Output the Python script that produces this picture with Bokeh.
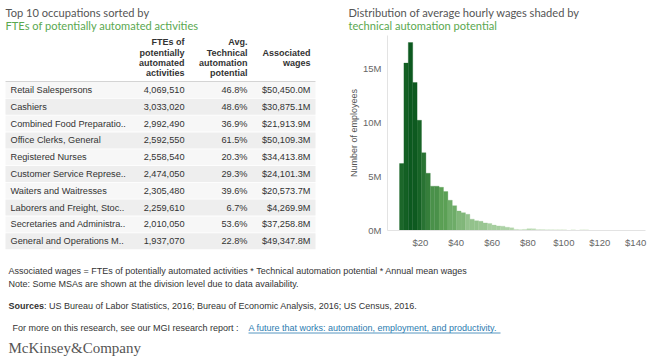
from bokeh.plotting import figure
from bokeh.layouts import column, row
from bokeh.models import (Range1d, FixedTicker, PrintfTickFormatter,
                          LinearColorMapper, ColumnDataSource)
from bokeh.transform import transform
from bokeh.core.properties import value
from bokeh.embed import file_html
from bokeh.resources import INLINE

# ---------------- data ----------------
occupations = ["Retail Salespersons", "Cashiers", "Combined Food Preparatio..",
               "Office Clerks, General", "Registered Nurses", "Customer Service Represe..",
               "Waiters and Waitresses", "Laborers and Freight, Stoc..",
               "Secretaries and Administra..", "General and Operations M.."]
fte_automated = [4069510, 3033020, 2992490, 2592550, 2558540, 2474050,
                 2305480, 2259610, 2010050, 1937070]
automation_potential_pct = [46.8, 48.6, 36.9, 61.5, 20.3, 29.3, 39.6, 6.7, 53.6, 22.8]
associated_wages_m = [50450.0, 30875.1, 21913.9, 50109.3, 34413.8, 24101.3,
                      20573.7, 4269.9, 37258.8, 49347.8]

# histogram: lower edge of each hourly-wage bin ($), employees (millions),
# average technical automation potential of the bin (%) -> shading
wage_bin_start = [8.4, 10.85, 13.3, 15.75, 18.2, 20.65, 23.1, 25.55, 28.0, 30.45,
                  32.9, 35.35, 37.8, 40.25, 42.7, 45.15, 47.6, 50.05, 52.5, 54.95,
                  57.4, 59.85, 62.3, 64.75, 67.2, 69.65, 72.1, 74.55, 77.0, 79.45,
                  81.9, 84.35, 86.8, 89.25, 91.7, 94.15, 96.6, 99.05, 101.5, 103.95,
                  106.4, 108.85, 111.3]
employees_m = [6.2, 15.5, 17.4, 13.7, 10.2, 7.2, 5.3, 4.1, 4.1, 4.0,
               3.6, 2.8, 2.3, 1.8, 1.65, 1.5, 1.05, 0.9, 0.85, 0.7,
               0.65, 0.5, 0.42, 0.4, 0.3, 0.25, 0.1, 0.08, 0.1, 0.17,
               0.16, 0.09, 0.09, 0.08, 0.08, 0.08, 0.08, 0.08, 0.0, 0.08,
               0.0, 0.08, 0.07]
bin_automation_pct = [55, 57, 59, 58.5, 56, 52, 49, 44, 44, 40,
                      40, 37, 37, 34, 34, 31, 31, 31, 30, 30,
                      28, 28, 28, 27, 27, 26, 25, 25, 25, 25,
                      24, 22, 22, 22, 22, 21, 21, 21, 21, 20,
                      20, 20, 20]
BIN_WIDTH = 2.45

y_ticks_m = [0, 5, 10, 15]
x_ticks_usd = [20, 40, 60, 80, 100, 120, 140]

# ---------------- styles ----------------
TITLE_GRAY = "#555555"
TITLE_GREEN = "#5aa84f"
TXT = "#333333"
SANS = "Liberation Sans"
TITLE_FONT = "Lato"


def blank(w, h, x0, x1, ytop, ybot):
    f = figure(width=w, height=h, x_range=Range1d(x0, x1), y_range=Range1d(ybot, ytop),
               output_backend="svg", toolbar_location=None,
               x_axis_location=None, y_axis_location=None, min_border=0)
    f.grid.visible = False
    f.outline_line_color = None
    return f


# ---------------- header ----------------
hdr = blank(650, 35, 0, 650, 0, 35)
hdr.text(x=[5, 5, 348, 348], y=[12, 25, 12, 25],
         text=["Top 10 occupations sorted by", "FTEs of potentially automated activities",
               "Distribution of average hourly wages shaded by", "technical automation potential"],
         text_color=[TITLE_GRAY, TITLE_GREEN, TITLE_GRAY, TITLE_GREEN],
         text_font=value(TITLE_FONT), text_font_size="11.1px",
         text_baseline="middle", text_align="left")

# ---------------- table ----------------
tbl = blank(340, 220, 0, 340, 35, 255)
hy = [41.7, 52.3, 62.7, 72.7]
tbl.text(x=[184] * 4, y=hy, text=["FTEs of", "potentially", "automated", "activities"],
         text_font=value(SANS), text_font_size="9px", text_font_style="bold",
         text_color=TXT, text_align="right", text_baseline="middle")
tbl.text(x=[247] * 4, y=hy, text=["Avg.", "Technical", "automation", "potential"],
         text_font=value(SANS), text_font_size="9px", text_font_style="bold",
         text_color=TXT, text_align="right", text_baseline="middle")
tbl.text(x=[310] * 2, y=hy[1:3], text=["Associated", "wages"],
         text_font=value(SANS), text_font_size="9px", text_font_style="bold",
         text_color=TXT, text_align="right", text_baseline="middle")

row_y = [89.5 + i * 16.8 for i in range(len(occupations))]
tsrc = ColumnDataSource(dict(
    y=row_y,
    top=[v - 8.0 for v in row_y],
    bot=[v + 8.0 for v in row_y],
    fill=["#f7f7f7" if i % 2 == 0 else "#eeeeee" for i in range(len(occupations))],
    name=occupations,
    fte=[f"{v:,}" for v in fte_automated],
    pct=[f"{v:.1f}%" for v in automation_potential_pct],
    wage=[f"${v:,.1f}M" for v in associated_wages_m],
))
tbl.quad(left=5, right=315, top="top", bottom="bot", fill_color="fill",
         line_color=None, source=tsrc)
tbl.segment(x0=[5], x1=[315], y0=[81], y1=[81], line_color="#d4d4d4", line_width=1)
for col, xpos, align in [("name", 10, "left"), ("fte", 184, "right"),
                         ("pct", 247, "right"), ("wage", 310, "right")]:
    tbl.text(x=xpos, y="y", text=col, source=tsrc, text_font=value(SANS),
             text_font_size="9.2px", text_color=TXT, text_align=align,
             text_baseline="middle")

# ---------------- histogram ----------------
stops = [(0.0, (0xd8, 0xec, 0xd0)), (0.5, (0x5b, 0xa0, 0x55)), (1.0, (0x08, 0x55, 0x1c))]
palette = []
for k in range(256):
    t = k / 255
    for (t0, c0), (t1, c1) in zip(stops[:-1], stops[1:]):
        if t0 <= t <= t1:
            u = (t - t0) / (t1 - t0)
            c = tuple(round(a + (b - a) * u) for a, b in zip(c0, c1))
            break
    palette.append("#%02x%02x%02x" % c)
mapper = LinearColorMapper(palette=palette, low=20, high=60)

hsrc = ColumnDataSource(dict(
    x=[s + BIN_WIDTH / 2 for s in wage_bin_start],
    top=employees_m,
    auto=bin_automation_pct,
))

hist = figure(width=310, height=220, x_range=Range1d(1.7, 145.5), y_range=Range1d(0, 18.05),
              output_backend="svg", toolbar_location=None,
              min_border_left=47, min_border_right=5, min_border_top=0, min_border_bottom=25)
hist.vbar(x="x", top="top", width=BIN_WIDTH, bottom=0, source=hsrc,
          fill_color=transform("auto", mapper), line_color=transform("auto", mapper),
          line_width=0.3)
hist.grid.visible = False
hist.outline_line_color = None
for ax in (hist.xaxis[0], hist.yaxis[0]):
    ax.axis_line_color = "#e3e3e3"
    ax.major_tick_line_color = None
    ax.minor_tick_line_color = None
    ax.major_tick_out = 0
    ax.major_tick_in = 0
    ax.major_label_text_font = SANS
    ax.major_label_text_font_size = "9.5px"
    ax.major_label_text_color = "#666666"
hist.xaxis.ticker = FixedTicker(ticks=x_ticks_usd)
hist.xaxis.formatter = PrintfTickFormatter(format="$%d")
hist.xaxis.major_label_standoff = 6
hist.yaxis.ticker = FixedTicker(ticks=y_ticks_m)
hist.yaxis.formatter = PrintfTickFormatter(format="%dM")
hist.yaxis.major_label_standoff = 6
hist.yaxis.axis_label = "Number of employees"
hist.yaxis.axis_label_text_font = SANS
hist.yaxis.axis_label_text_font_size = "9px"
hist.yaxis.axis_label_text_font_style = "normal"
hist.yaxis.axis_label_text_color = "#555555"
hist.yaxis.axis_label_standoff = 1

# ---------------- footer ----------------
ftr = blank(650, 101, 0, 650, 255, 356)
ftr.text(x=[8, 8], y=[270, 283],
         text=["Associated wages = FTEs of potentially automated activities * Technical automation potential * Annual mean wages",
               "Note: Some MSAs are shown at the division level due to data availability."],
         text_font=value(SANS), text_font_size="9px", text_color=TXT,
         text_baseline="middle", text_align="left")
ftr.text(x=[8], y=[305], text=["Sources"], text_font=value(SANS), text_font_size="9px",
         text_font_style="bold", text_color=TXT, text_baseline="middle")
ftr.text(x=[43.5], y=[305],
         text=[": US Bureau of Labor Statistics, 2016; Bureau of Economic Analysis, 2016; US Census, 2016."],
         text_font=value(SANS), text_font_size="9px", text_color=TXT, text_baseline="middle")
ftr.text(x=[12], y=[327], text=["For more on this research, see our MGI research report :"],
         text_font=value(SANS), text_font_size="9px", text_color=TXT, text_baseline="middle")
ftr.text(x=[248], y=[327],
         text=["A future that works: automation, employment, and productivity."],
         text_font=value(SANS), text_font_size="9px", text_color="#2b7bb0",
         text_baseline="middle")
ftr.segment(x0=[248], x1=[500], y0=[332.5], y1=[332.5], line_color="#2b7bb0", line_width=0.8)
ftr.text(x=[8], y=[347], text=["McKinsey&Company"], text_font=value("Liberation Serif"),
         text_font_size="15px", text_color="#555555", text_baseline="middle")

layout = column(hdr, row(column(tbl), hist), ftr)
open("out.html", "w").write(file_html(layout, INLINE))
